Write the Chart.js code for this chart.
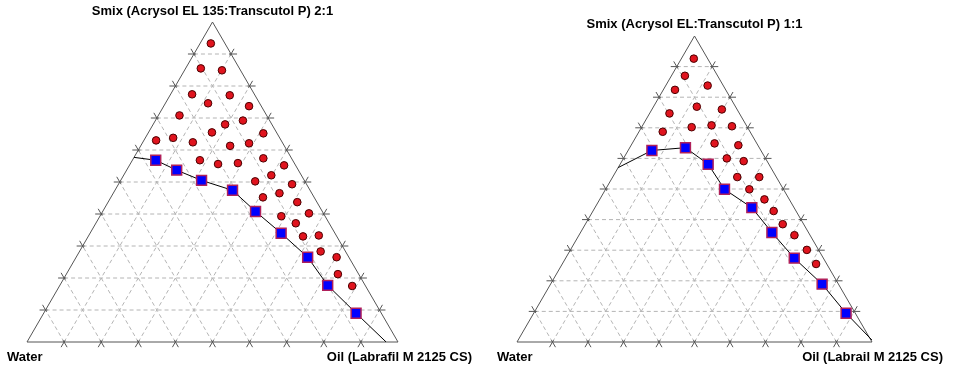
<!DOCTYPE html>
<html>
<head>
<meta charset="utf-8">
<script src="https://cdn.jsdelivr.net/npm/chart.js@4/dist/chart.umd.min.js"></script>
<style>
  body { margin: 0; background: #fff; }
  #wrap { position: relative; width: 953px; height: 373px; }
  .box { position: absolute; top: 0; height: 373px; }
</style>
</head>
<body>
<div id="wrap">
  <div class="box" style="left:0;width:476px"><canvas id="chart1"></canvas></div>
  <div class="box" style="left:476px;width:477px"><canvas id="chart2"></canvas></div>
</div>
<script>
// ternary values in % (water = 100 - smix - oil)
const title1 = "Smix (Acrysol EL 135:Transcutol P) 2:1";
const oilLabel1 = "Oil (Labrafil M 2125 CS)";
const title2 = "Smix (Acrysol EL:Transcutol P) 1:1";
const oilLabel2 = "Oil (Labrail M 2125 CS)";
const waterLabel = "Water";
const gridSteps = [10, 20, 30, 40, 50, 60, 70, 80, 90];

// chart 1 - emulsion region (red circles)
const redSmix1 = [93.3, 85.5, 84.9, 77.4, 77.1, 74.6, 73.7, 70.8, 68.0, 69.2, 65.5, 65.2, 63.0, 63.8, 62.4, 61.3, 62.1, 56.8, 55.6, 55.9, 57.4, 55.2, 52.1, 50.2, 49.3, 45.2, 46.5, 43.7, 39.3, 40.2, 37.1, 33.0, 33.3, 28.3, 26.5, 21.2, 17.5];
const redOil1 = [2.9, 4.1, 10.1, 5.8, 16.1, 11.5, 23.0, 5.7, 19.4, 23.6, 17.1, 31.1, 3.3, 7.5, 13.5, 24.1, 28.8, 18.2, 23.7, 28.9, 35.0, 41.7, 39.8, 36.4, 46.8, 41.0, 44.8, 51.0, 48.9, 55.9, 53.9, 57.9, 62.0, 65.0, 70.2, 73.2, 78.9];
// chart 1 - boundary (blue squares) and line ends
const blueSmix1 = [56.8, 53.7, 50.5, 47.4, 40.8, 34.0, 26.5, 17.7, 9.0];
const blueOil1 = [6.3, 13.5, 21.8, 31.7, 41.2, 51.5, 62.4, 72.2, 84.2];
const lineEnds1 = { smix: [57.7, 0], oil: [0, 96.8] };

// chart 2
const redSmix2 = [92.6, 87.0, 83.8, 82.4, 76.9, 76.0, 74.7, 70.2, 70.8, 70.5, 68.7, 64.9, 64.3, 60.0, 59.1, 53.9, 53.9, 49.9, 46.6, 42.8, 38.5, 34.9, 30.1, 25.5];
const redOil2 = [3.5, 3.8, 11.8, 3.3, 12.2, 19.7, 5.6, 14.1, 19.4, 25.3, 6.7, 23.2, 30.2, 29.1, 34.3, 35.1, 41.3, 40.5, 46.4, 50.9, 55.6, 60.7, 66.6, 71.5];
const blueSmix2 = [62.6, 63.5, 58.1, 49.9, 43.9, 35.8, 27.4, 18.9, 9.4];
const blueOil2 = [6.7, 15.7, 24.8, 33.5, 44.2, 53.9, 64.4, 76.5, 88.0];
const lineEnds2 = { smix: [57.0, 0], oil: [0, 100.5] };

// ternary -> cartesian data units (x: 0..100 along base, y: smix)
function tern(smix, oil) {
  return { x: oil + smix / 2, y: smix };
}
function toPoints(smix, oil) {
  return smix.map((s, i) => tern(s, oil[i]));
}

const ternaryPlugin = {
  id: "ternary",
  beforeDatasetsDraw(chart, args, opts) {
    const ctx = chart.ctx;
    const sx = chart.scales.x, sy = chart.scales.y;
    const px = (s, o) => {
      const p = tern(s, o);
      return [sx.getPixelForValue(p.x), sy.getPixelForValue(p.y)];
    };
    ctx.save();
    // dashed grid
    const lines = [];
    gridSteps.forEach((t) => {
      lines.push([px(t, 0), px(t, 100 - t)]);
      lines.push([px(0, t), px(100 - t, t)]);
      lines.push([px(0, 100 - t), px(100 - t, 0)]);
    });
    ctx.lineWidth = 1;
    ctx.strokeStyle = "#b4b4b4";
    ctx.setLineDash([4, 3]);
    lines.forEach(([a, b]) => {
      ctx.beginPath();
      ctx.moveTo(a[0], a[1]);
      ctx.lineTo(b[0], b[1]);
      ctx.stroke();
    });
    // ticks (gridline extensions)
    ctx.setLineDash([]);
    ctx.strokeStyle = "#555";
    lines.forEach(([a, b]) => {
      const len = Math.hypot(b[0] - a[0], b[1] - a[1]);
      const ux = (b[0] - a[0]) / len, uy = (b[1] - a[1]) / len;
      ctx.beginPath();
      ctx.moveTo(a[0] + ux * 2, a[1] + uy * 2);
      ctx.lineTo(a[0] - ux * 6, a[1] - uy * 6);
      ctx.moveTo(b[0] - ux * 2, b[1] - uy * 2);
      ctx.lineTo(b[0] + ux * 6, b[1] + uy * 6);
      ctx.stroke();
    });
    // triangle
    const w = px(0, 0), o = px(0, 100), s = px(100, 0);
    ctx.strokeStyle = "#555";
    ctx.beginPath();
    ctx.moveTo(w[0], w[1]);
    ctx.lineTo(o[0], o[1]);
    ctx.lineTo(s[0], s[1]);
    ctx.closePath();
    ctx.stroke();
    // labels
    ctx.fillStyle = "#000";
    ctx.font = "bold 13px 'Liberation Sans', Arial, sans-serif";
    ctx.textBaseline = "middle";
    ctx.textAlign = "center";
    ctx.fillText(opts.title, s[0], opts.titleY);
    ctx.textAlign = "left";
    ctx.fillText(waterLabel, opts.waterX, 357);
    ctx.textAlign = "right";
    ctx.fillText(opts.oil, opts.oilX, 357);
    ctx.restore();
  },
};

function makeChart(id, red, blue, line, padding, labels) {
  new Chart(document.getElementById(id), {
    type: "scatter",
    data: {
      datasets: [
        {
          data: blue,
          pointStyle: "rect",
          pointRadius: 7,
          backgroundColor: "#0000ff",
          borderColor: "#b0205a",
          borderWidth: 1.5,
        },
        {
          data: line,
          showLine: true,
          borderColor: "#000",
          borderWidth: 1,
          pointRadius: 0,
        },
        {
          data: red,
          pointRadius: 3.8,
          backgroundColor: "#e0141e",
          borderColor: "#4a0000",
          borderWidth: 1,
        },
      ],
    },
    options: {
      responsive: true,
      maintainAspectRatio: false,
      animation: false,
      layout: { padding: padding },
      scales: {
        x: { type: "linear", min: 0, max: 100, display: false },
        y: { type: "linear", min: 0, max: 100, display: false },
      },
      plugins: {
        legend: { display: false },
        tooltip: { enabled: false },
        ternary: labels,
      },
    },
    plugins: [ternaryPlugin],
  });
}

const line1 = [tern(lineEnds1.smix[0], lineEnds1.oil[0])]
  .concat(toPoints(blueSmix1, blueOil1), [tern(lineEnds1.smix[1], lineEnds1.oil[1])]);
const line2 = [tern(lineEnds2.smix[0], lineEnds2.oil[0])]
  .concat(toPoints(blueSmix2, blueOil2), [tern(lineEnds2.smix[1], lineEnds2.oil[1])]);

makeChart("chart1", toPoints(redSmix1, redOil1), toPoints(blueSmix1, blueOil1), line1,
  { left: 27, right: 78, top: 22, bottom: 31 },
  { title: title1, titleY: 11, oil: oilLabel1, waterX: 7, oilX: 472 });
makeChart("chart2", toPoints(redSmix2, redOil2), toPoints(blueSmix2, blueOil2), line2,
  { left: 41, right: 81, top: 36, bottom: 31 },
  { title: title2, titleY: 24, oil: oilLabel2, waterX: 21, oilX: 467 });
</script>
</body>
</html>
